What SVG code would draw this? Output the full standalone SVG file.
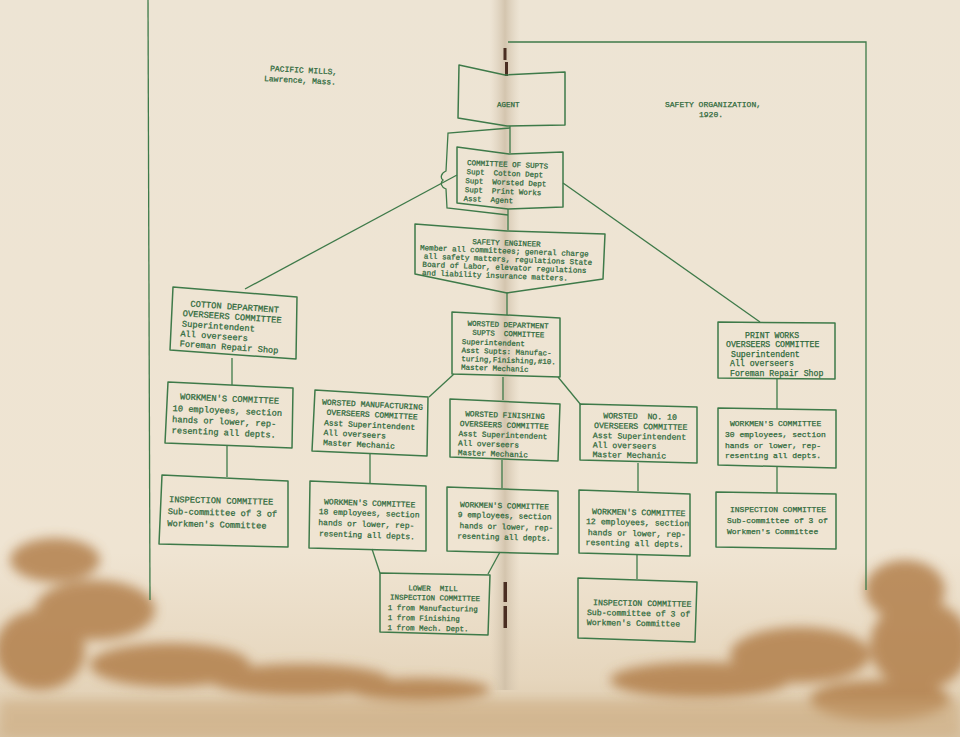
<svg xmlns="http://www.w3.org/2000/svg" width="960" height="737" viewBox="0 0 960 737">
<defs>
<linearGradient id="paper" x1="0" y1="0" x2="0" y2="1">
<stop offset="0" stop-color="#ede4d4"/>
<stop offset="0.75" stop-color="#efe4d2"/>
<stop offset="0.92" stop-color="#e6d6bd"/>
<stop offset="1" stop-color="#d9c5a6"/>
</linearGradient>
<linearGradient id="gutter" x1="0" y1="0" x2="1" y2="0">
<stop offset="0" stop-color="#d8cab4" stop-opacity="0"/>
<stop offset="0.5" stop-color="#cdbda5" stop-opacity="0.8"/>
<stop offset="1" stop-color="#d8cab4" stop-opacity="0"/>
</linearGradient>
<filter id="blur" x="-20%" y="-20%" width="140%" height="140%"><feGaussianBlur stdDeviation="6"/></filter>
<style>
.box{fill:none;stroke:#3e7a49;stroke-width:1.5;stroke-linejoin:round}
.ln{fill:none;stroke:#3e7a49;stroke-width:1.3}
.t{font-family:"Liberation Mono",monospace;fill:#2f6a3c;stroke:#2f6a3c;stroke-width:0.25;white-space:pre}
.s75{font-size:7.5px}.s76{font-size:7.6px}.s78{font-size:7.8px}.s80{font-size:8px}.s82{font-size:8.2px}.s87{font-size:8.7px}
</style>
</defs>

<!-- paper -->
<rect x="0" y="0" width="960" height="737" fill="url(#paper)"/>
<rect x="490" y="0" width="30" height="690" fill="url(#gutter)"/>

<!-- stains -->
<g filter="url(#blur)" fill="#ad773f" opacity="0.78">
<ellipse cx="55" cy="560" rx="45" ry="22"/>
<ellipse cx="95" cy="610" rx="60" ry="30"/>
<ellipse cx="40" cy="650" rx="45" ry="40"/>
<ellipse cx="170" cy="665" rx="80" ry="22"/>
<ellipse cx="300" cy="680" rx="90" ry="16"/>
<ellipse cx="420" cy="690" rx="70" ry="12"/>
<ellipse cx="700" cy="680" rx="90" ry="18"/>
<ellipse cx="800" cy="655" rx="70" ry="28"/>
<ellipse cx="905" cy="590" rx="40" ry="30"/>
<ellipse cx="920" cy="645" rx="50" ry="45"/>
<ellipse cx="880" cy="700" rx="70" ry="20"/>
</g>
<g fill="#c9a577" opacity="0.5" filter="url(#blur)">
<rect x="0" y="700" width="960" height="37"/>
</g>

<!-- page borders -->
<g class="ln">
<path d="M148,0 L150,600"/>
<path d="M508,42 L866,42 L866,590"/>
</g>

<!-- staples -->
<g fill="#4a2e22">
<rect x="503.5" y="48" width="3" height="12"/>
<rect x="505" y="62" width="3" height="14"/>
<rect x="503.5" y="582" width="3.5" height="20"/>
<rect x="503.5" y="606" width="3.5" height="22"/>
</g>

<!-- headings -->
<g id="header-left">
<text class="t s80" x="270" y="71" transform="rotate(3 270 71)">PACIFIC MILLS,</text>
<text class="t s80" x="264" y="81" transform="rotate(3 264 81)">Lawrence, Mass.</text>
</g>
<g id="header-right">
<text class="t s80" x="665" y="107">SAFETY ORGANIZATION,</text>
<text class="t s80" x="699" y="117">1920.</text>
</g>

<!-- connectors -->
<g id="connectors" class="ln">
<path d="M510,126 V153"/>
<path d="M510,128 L448,133 L446,171 C441,173 440,178 443,180 C440,183 441,187 446,189 L447,208 L508,215"/>
<path d="M245,289 L457,175"/>
<path d="M563,183 L760,322"/>
<path d="M508,209 V230"/>
<path d="M507,292 V315"/>
<path d="M454,374 L429,397"/>
<path d="M503,377 V400"/>
<path d="M558,377 L581,405"/>
<path d="M232,358 V385"/>
<path d="M227,446 V477"/>
<path d="M370,454 V483"/>
<path d="M502,460 V488"/>
<path d="M638,463 V491"/>
<path d="M777,378 V409"/>
<path d="M777,467 V493"/>
<path d="M372,549 L380,573"/>
<path d="M500,552 L488,574"/>
<path d="M637,554 V579"/>
</g>

<!-- nodes -->
<g id="agent">
<polygon class="box" points="459,65 505,75 565,72 565,125 507,126 458,118"/>
<text class="t s75" x="497" y="107">AGENT</text>
</g>

<g id="committee-of-supts">
<polygon class="box" points="457,147 509,154 563,152 563,207 508,209 457,203"/>
<g transform="rotate(2.5 466 165)">
<text class="t s75" x="467" y="165">COMMITTEE OF SUPTS</text>
<text class="t s75" x="467" y="174">Supt  Cotton Dept</text>
<text class="t s75" x="466" y="183">Supt  Worsted Dept</text>
<text class="t s75" x="466" y="192">Supt  Print Works</text>
<text class="t s75" x="465" y="201">Asst  Agent</text>
</g>
</g>

<g id="safety-engineer">
<polygon class="box" points="415,224 507,231 605,234 603,279 507,293 415,274"/>
<g transform="rotate(2.2 420 250)">
<text class="t s76" x="472" y="242">SAFETY ENGINEER</text>
<text class="t s76" x="420" y="250">Member all committees; general charge</text>
<text class="t s76" x="424" y="258.3">all safety matters, regulations State</text>
<text class="t s76" x="423" y="266.6">Board of Labor, elevator regulations</text>
<text class="t s76" x="423" y="275">and liability insurance matters.</text>
</g>
</g>

<g id="cotton-department">
<polygon class="box" points="173,287 297,297 296,359 170,350"/>
<g transform="rotate(4 183 310)">
<text class="t s87" x="190" y="306">COTTON DEPARTMENT</text>
<text class="t s87" x="183" y="316">OVERSEERS COMMITTEE</text>
<text class="t s87" x="183" y="326.5">Superintendent</text>
<text class="t s87" x="182" y="336.5">All overseers</text>
<text class="t s87" x="182" y="346.5">Foreman Repair Shop</text>
</g>
</g>

<g id="cotton-workmen">
<polygon class="box" points="168,382 293,388 292,448 165,443"/>
<g transform="rotate(2.6 174 400)">
<text class="t s87" x="180" y="399">WORKMEN'S COMMITTEE</text>
<text class="t s87" x="173" y="411">10 employees, section</text>
<text class="t s87" x="173" y="422">hands or lower, rep-</text>
<text class="t s87" x="173" y="433">resenting all depts.</text>
</g>
</g>

<g id="cotton-inspection">
<polygon class="box" points="162,475 288,481 288,547 159,544"/>
<g transform="rotate(1.5 168 500)">
<text class="t s87" x="169" y="502">INSPECTION COMMITTEE</text>
<text class="t s87" x="168" y="514">Sub-committee of 3 of</text>
<text class="t s87" x="168" y="526">Workmen's Committee</text>
</g>
</g>

<g id="worsted-department">
<polygon class="box" points="452,312 560,318 560,377 452,374"/>
<g transform="rotate(2 462 340)">
<text class="t s75" x="467" y="325.5">WORSTED DEPARTMENT</text>
<text class="t s75" x="472" y="334.5">SUPTS  COMMITTEE</text>
<text class="t s75" x="462" y="344">Superintendent</text>
<text class="t s75" x="462" y="352.5">Asst Supts: Manufac-</text>
<text class="t s75" x="462" y="361">turing,Finishing,#10.</text>
<text class="t s75" x="462" y="369.5">Master Mechanic</text>
</g>
</g>

<g id="worsted-manufacturing">
<polygon class="box" points="315,390 428,397 427,456 312,451"/>
<g transform="rotate(3 322 405)">
<text class="t s80" x="322" y="404.5">WORSTED MANUFACTURING</text>
<text class="t s80" x="327" y="414.5">OVERSEERS COMMITTEE</text>
<text class="t s80" x="325" y="425">Asst Superintendent</text>
<text class="t s80" x="325" y="435">All overseers</text>
<text class="t s80" x="325" y="445">Master Mechanic</text>
</g>
</g>

<g id="worsted-manufacturing-workmen">
<polygon class="box" points="310,481 426,486 426,551 309,548"/>
<g transform="rotate(2 320 505)">
<text class="t s80" x="324" y="504">WORKMEN'S COMMITTEE</text>
<text class="t s80" x="319" y="514">18 employees, section</text>
<text class="t s80" x="319" y="525">hands or lower, rep-</text>
<text class="t s80" x="320" y="536">resenting all depts.</text>
</g>
</g>

<g id="worsted-finishing">
<polygon class="box" points="450,399 560,404 558,461 450,457"/>
<g transform="rotate(2 460 420)">
<text class="t s78" x="465" y="416">WORSTED FINISHING</text>
<text class="t s78" x="460" y="426">OVERSEERS COMMITTEE</text>
<text class="t s78" x="459" y="436">Asst Superintendent</text>
<text class="t s78" x="459" y="445.5">All overseers</text>
<text class="t s78" x="459" y="455">Master Mechanic</text>
</g>
</g>

<g id="worsted-finishing-workmen">
<polygon class="box" points="447,487 558,491 558,554 447,551"/>
<g transform="rotate(1.5 458 510)">
<text class="t s78" x="460" y="507">WORKMEN'S COMMITTEE</text>
<text class="t s78" x="458" y="517">9 employees, section</text>
<text class="t s78" x="460" y="528">hands or lower, rep-</text>
<text class="t s78" x="458" y="538.5">resenting all depts.</text>
</g>
</g>

<g id="worsted-no10">
<polygon class="box" points="580,404 697,407 697,463 580,460"/>
<g transform="rotate(1.2 594 430)">
<text class="t s82" x="603" y="418">WORSTED  NO. 10</text>
<text class="t s82" x="594" y="428">OVERSEERS COMMITTEE</text>
<text class="t s82" x="593" y="438">Asst Superintendent</text>
<text class="t s82" x="593" y="447.5">All overseers</text>
<text class="t s82" x="593" y="457">Master Mechanic</text>
</g>
</g>

<g id="worsted-no10-workmen">
<polygon class="box" points="579,490 690,494 690,556 579,553"/>
<g transform="rotate(1.2 588 520)">
<text class="t s82" x="592" y="514">WORKMEN'S COMMITTEE</text>
<text class="t s82" x="586" y="524">12 employees, section</text>
<text class="t s82" x="588" y="535">hands or lower, rep-</text>
<text class="t s82" x="586" y="545">resenting all depts.</text>
</g>
</g>

<g id="lower-mill-inspection">
<polygon class="box" points="380,573 490,575 488,635 380,632"/>
<g transform="rotate(1 390 600)">
<text class="t s75" x="408" y="590">LOWER  MILL</text>
<text class="t s75" x="390" y="599.5">INSPECTION COMMITTEE</text>
<text class="t s75" x="388" y="610">1 from Manufacturing</text>
<text class="t s75" x="388" y="620">1 from Finishing</text>
<text class="t s75" x="388" y="630">1 from Mech. Dept.</text>
</g>
</g>

<g id="no10-inspection">
<polygon class="box" points="578,578 697,582 695,642 578,638"/>
<g transform="rotate(1 588 612)">
<text class="t s82" x="593" y="605">INSPECTION COMMITTEE</text>
<text class="t s82" x="587" y="615">Sub-committee of 3 of</text>
<text class="t s82" x="587" y="625">Workmen's Committee</text>
</g>
</g>

<g id="print-works">
<polygon class="box" points="718,322 835,323 835,379 718,378"/>
<text class="t s82" x="745" y="337.5">PRINT WORKS</text>
<text class="t s82" x="726" y="347">OVERSEERS COMMITTEE</text>
<text class="t s82" x="731" y="356.5">Superintendent</text>
<text class="t s82" x="730" y="366">All overseers</text>
<text class="t s82" x="730" y="375.5">Foreman Repair Shop</text>
</g>

<g id="print-workmen">
<polygon class="box" points="718,408 836,410 836,468 718,465"/>
<text class="t s80" x="730" y="426">WORKMEN'S COMMITTEE</text>
<text class="t s80" x="725" y="437">30 employees, section</text>
<text class="t s80" x="725" y="448">hands or lower, rep-</text>
<text class="t s80" x="725" y="458">resenting all depts.</text>
</g>

<g id="print-inspection">
<polygon class="box" points="716,492 836,494 836,549 716,547"/>
<text class="t s80" x="730" y="512">INSPECTION COMMITTEE</text>
<text class="t s80" x="727" y="523">Sub-committee of 3 of</text>
<text class="t s80" x="727" y="534">Workmen's Committee</text>
</g>
</svg>
